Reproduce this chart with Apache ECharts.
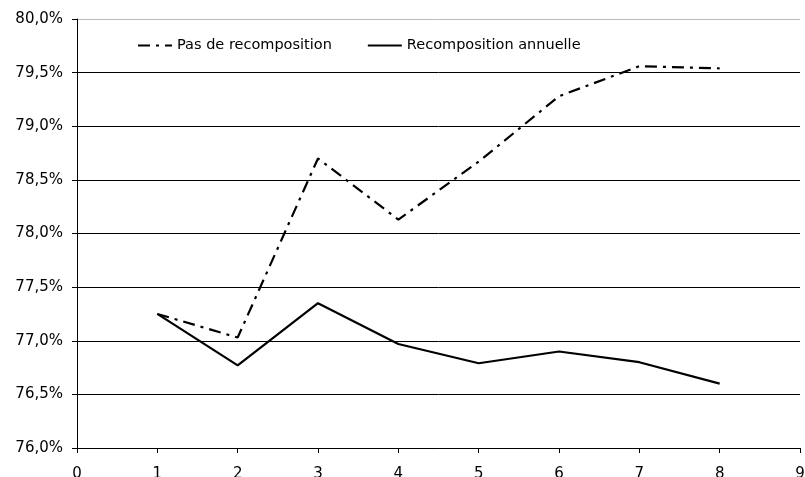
<!DOCTYPE html>
<html>
<head>
<meta charset="utf-8">
<script src="https://cdn.jsdelivr.net/npm/echarts@6/dist/echarts.min.js"></script>
<style>
  html, body { margin: 0; padding: 0; background: #fff; }
  #chart { width: 805px; height: 477px; }
</style>
</head>
<body>
<div id="chart"></div>
<script>
// values
const periods = [1, 2, 3, 4, 5, 6, 7, 8]
const pasDeRecomposition = [77.25, 77.03, 78.70, 78.13, 78.67, 79.28, 79.56, 79.54]
const recompositionAnnuelle = [77.25, 76.77, 77.35, 76.97, 76.79, 76.90, 76.80, 76.60]
const seriesNames = ['Pas de recomposition', 'Recomposition annuelle']

const font = 'DejaVu Sans, Verdana, sans-serif'
const myChart = echarts.init(document.getElementById('chart'))

function pairs(values) {
  return periods.map((p, i) => [p, values[i]])
}

const option = {
  animation: false,
  backgroundColor: '#fff',
  grid: { left: 77, right: 5, top: 19, bottom: 29, outerBoundsMode: 'none', containLabel: false },
  legend: {
    left: 137,
    top: 38,
    padding: 0,
    itemWidth: 34,
    itemHeight: 14,
    itemGap: 35,
    itemStyle: { opacity: 0 },
    textStyle: { color: '#000', fontFamily: font, fontSize: 14.5 },
    data: seriesNames,
  },
  xAxis: {
    type: 'value',
    min: 0,
    max: 9,
    interval: 1,
    axisLine: { lineStyle: { color: '#000', width: 1 } },
    axisTick: { show: true, length: 5, lineStyle: { color: '#000' } },
    axisLabel: { color: '#000', fontFamily: font, fontSize: 15, margin: 19 },
    splitLine: { show: false },
  },
  yAxis: {
    type: 'value',
    min: 76,
    max: 80,
    interval: 0.5,
    axisLine: { show: true, lineStyle: { color: '#000', width: 1 } },
    axisTick: { show: true, length: 5, lineStyle: { color: '#000' } },
    axisLabel: {
      color: '#000', fontFamily: font, fontSize: 15, margin: 14,
      formatter: v => v.toFixed(1).replace('.', ',') + '%',
    },
    splitLine: {
      show: true,
      lineStyle: {
        color: ['#000', '#000', '#000', '#000', '#000', '#000', '#000', '#000', '#bbb'],
        width: 1,
      },
    },
  },
  series: [
    {
      name: seriesNames[0],
      type: 'line',
      data: pairs(pasDeRecomposition),
      symbol: 'none',
      color: '#000',
      lineStyle: { color: '#000', width: 2.2, type: [12, 6, 3, 6] },
    },
    {
      name: seriesNames[1],
      type: 'line',
      data: pairs(recompositionAnnuelle),
      symbol: 'none',
      color: '#000',
      lineStyle: { color: '#000', width: 2.2, type: 'solid' },
    },
  ],
}
myChart.setOption(option)
</script>
</body>
</html>
